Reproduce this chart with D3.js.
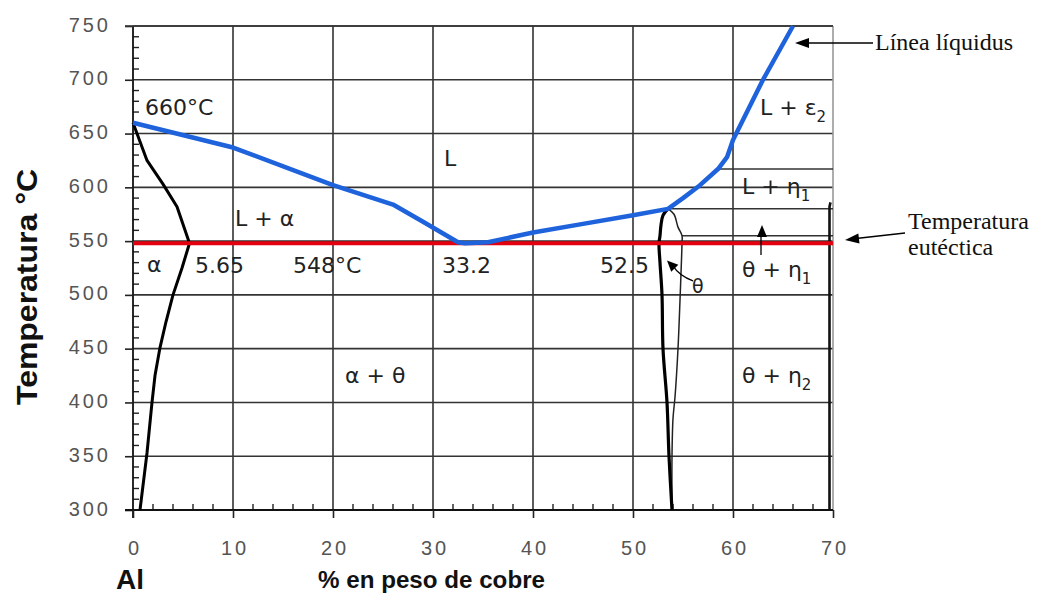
<!DOCTYPE html>
<html>
<head>
<meta charset="utf-8">
<script src="https://cdn.jsdelivr.net/npm/d3@7"></script>
<style>
  body { margin: 0; background: #fff; }
  svg { display: block; }
</style>
</head>
<body>
<svg id="chart" width="1039" height="599"></svg>
<script>
// Al–Cu phase diagram (aluminium-rich side)
const xTicks = [0, 10, 20, 30, 40, 50, 60, 70];
const yTicks = [300, 350, 400, 450, 500, 550, 600, 650, 700, 750];

// liquidus line: [% Cu, °C]
const liquidus = [
  [0, 660], [10, 637], [20, 602], [24, 590], [26, 584], [29, 568],
  [32.5, 549], [33.2, 548], [35.5, 549], [40, 558], [45, 566],
  [50, 574], [53.5, 580], [55, 590], [56.7, 602], [58.5, 617], [59.4, 628],
  [60, 644], [63, 700], [66, 750]
];
// alpha solidus and solvus
const alphaSolidus = [[0, 660], [1.4, 625], [3, 603], [4.4, 582], [5.65, 548]];
const alphaSolvus = [[5.65, 548], [4.9, 525], [4.0, 500], [3.3, 475], [2.7, 451], [2.2, 425], [1.9, 400], [1.4, 353], [0.7, 300]];
// theta phase field boundaries
const thetaLeft = [
  [53.5, 580], [53.0, 574], [52.8, 565], [52.7, 555], [52.6, 548], [52.7, 530],
  [52.9, 500], [53.0, 450], [53.4, 400], [53.6, 350], [53.9, 300]
];
const thetaRight = [
  [53.5, 580], [54.1, 575], [54.5, 563], [54.9, 555], [54.9, 548], [54.8, 520],
  [54.7, 495], [54.5, 450], [54.2, 405], [54.0, 385], [53.9, 350], [53.9, 300]
];
const eutecticT = 548;
// short isotherms on the copper-rich side: [°C, from % Cu, to % Cu]
const isoT = [580, 555, 617];
const isoFrom = [53.5, 54.9, 58.6];
const isoTo = [70, 70, 70];
// right-hand boundary of the theta + eta field
const etaEdge = [[69.75, 586], [69.65, 582], [69.65, 300]];

// phase-field labels: text, subscript, % Cu, °C (baseline)
const labelText = ["660°C", "L", "L + α", "α", "5.65", "548°C", "33.2", "52.5",
  "θ", "θ + η", "α + θ", "θ + η", "L + ε", "L + η"];
const labelSub = ["", "", "", "", "", "", "", "", "", "1", "", "2", "2", "1"];
const labelX = [1.2, 31.1, 10.2, 1.4, 6.2, 16.0, 30.9, 46.7, 55.9, 60.9, 21.2, 60.9, 62.7, 60.9];
const labelT = [667, 620, 564, 521, 520.5, 520.5, 520.5, 520.5, 502, 517, 418, 418, 667, 594];

const svg = d3.select("#chart");
const x = d3.scaleLinear().domain([0, 70]).range([133, 833]);
const y = d3.scaleLinear().domain([300, 750]).range([510, 26]);

const grid = svg.append("g").attr("stroke", "#333").attr("stroke-width", 1.6);
// vertical grid lines
grid.selectAll(".vg").data(xTicks.filter(d => d > 0 && d < 70)).join("line")
  .attr("x1", d => x(d)).attr("x2", d => x(d))
  .attr("y1", y(300)).attr("y2", y(750));
// horizontal grid lines
grid.selectAll(".hg").data(yTicks.filter(d => d > 300)).join("line")
  .attr("x1", x(0)).attr("x2", x(70))
  .attr("y1", d => y(d)).attr("y2", d => y(d));
// right frame
svg.append("line").attr("x1", x(70)).attr("x2", x(70)).attr("y1", y(300)).attr("y2", y(750))
  .attr("stroke", "#999").attr("stroke-width", 1.6);

// minor ticks
const minorY = d3.range(300, 751, 10).filter(d => d % 50 !== 0);
svg.append("g").selectAll("line").data(minorY).join("line")
  .attr("x1", x(0)).attr("x2", x(0) + 6)
  .attr("y1", d => y(d)).attr("y2", d => y(d))
  .attr("stroke", "#222").attr("stroke-width", 1.4);
const minorX = d3.range(0, 71, 2).filter(d => d % 10 !== 0);
svg.append("g").selectAll("line").data(minorX).join("line")
  .attr("x1", d => x(d)).attr("x2", d => x(d))
  .attr("y1", y(300)).attr("y2", y(300) - 6)
  .attr("stroke", "#222").attr("stroke-width", 1.4);

// axes
const yAxis = svg.append("g").attr("transform", `translate(${x(0)},0)`)
  .call(d3.axisLeft(y).tickValues(yTicks).tickSize(8).tickPadding(14).tickFormat(d3.format("d")));
const xAxis = svg.append("g").attr("transform", `translate(0,${y(300)})`)
  .call(d3.axisBottom(x).tickValues(xTicks).tickSize(8).tickPadding(23).tickFormat(d3.format("d")));
[yAxis, xAxis].forEach(a => {
  a.select(".domain").attr("stroke", "#111").attr("stroke-width", 1.8);
  a.selectAll(".tick line").attr("stroke", "#222").attr("stroke-width", 1.6);
  a.selectAll(".tick text")
    .attr("fill", "#555")
    .style("font-family", "'Liberation Sans', Arial, sans-serif")
    .style("font-size", "20px")
    .style("letter-spacing", "3px");
});
yAxis.selectAll(".tick text").attr("dy", "0.25em");
xAxis.selectAll(".tick text").attr("dx", "1.5px");
xAxis.select(".domain").attr("d", `M${x(0) - 8},0H${x(70)}`);
yAxis.select(".domain").attr("d", `M0,${y(300) + 8}V${y(750)}`);
// top frame line
svg.append("line").attr("x1", x(0) - 8).attr("x2", x(70)).attr("y1", y(750)).attr("y2", y(750))
  .attr("stroke", "#333").attr("stroke-width", 1.6);

const line = d3.line().x(d => x(d[0])).y(d => y(d[1])).curve(d3.curveLinear);
const smooth = d3.line().x(d => x(d[0])).y(d => y(d[1])).curve(d3.curveCatmullRom.alpha(0.5));

// isotherms
svg.append("g").selectAll("line").data(isoT).join("line")
  .attr("x1", (d, i) => x(isoFrom[i])).attr("x2", (d, i) => x(isoTo[i]))
  .attr("y1", d => y(d)).attr("y2", d => y(d))
  .attr("stroke", "#333").attr("stroke-width", 1.5);

// phase boundaries
svg.append("path").datum(alphaSolidus).attr("d", line)
  .attr("fill", "none").attr("stroke", "#000").attr("stroke-width", 3)
  .attr("stroke-linejoin", "round");
svg.append("path").datum(alphaSolvus).attr("d", line)
  .attr("fill", "none").attr("stroke", "#000").attr("stroke-width", 3)
  .attr("stroke-linejoin", "round");
svg.append("path").datum(thetaRight).attr("d", smooth)
  .attr("fill", "none").attr("stroke", "#222").attr("stroke-width", 1.5);
svg.append("path").datum(thetaLeft).attr("d", smooth)
  .attr("fill", "none").attr("stroke", "#000").attr("stroke-width", 3.2);
svg.append("path").datum(etaEdge).attr("d", line)
  .attr("fill", "none").attr("stroke", "#111").attr("stroke-width", 2.6);

// eutectic isotherm
svg.append("line").attr("x1", x(0)).attr("x2", x(70))
  .attr("y1", y(eutecticT)).attr("y2", y(eutecticT))
  .attr("stroke", "#e3000f").attr("stroke-width", 4);

// liquidus
svg.append("path").datum(liquidus).attr("d", line)
  .attr("fill", "none").attr("stroke", "#1e62dc").attr("stroke-width", 4.5)
  .attr("stroke-linejoin", "round");

// small arrows inside the diagram
const arrowHead = (tip, angle, len, half) => {
  const a = angle * Math.PI / 180;
  const bx = tip[0] - len * Math.cos(a), by = tip[1] - len * Math.sin(a);
  const nx = -Math.sin(a) * half, ny = Math.cos(a) * half;
  return `M${tip[0]},${tip[1]}L${bx + nx},${by + ny}L${bx - nx},${by - ny}Z`;
};
// upward arrow in the theta + eta1 field
svg.append("line").attr("x1", x(62.8)).attr("x2", x(62.8)).attr("y1", y(537)).attr("y2", y(556))
  .attr("stroke", "#000").attr("stroke-width", 1.3);
svg.append("path").attr("d", arrowHead([x(62.9), y(565)], -90, 12, 5)).attr("fill", "#000");
// pointer to the theta field
svg.append("path")
  .attr("d", `M${x(56.0)},${y(513)} Q${x(54.6)},${y(518)} ${x(54.0)},${y(527)}`)
  .attr("fill", "none").attr("stroke", "#000").attr("stroke-width", 1.2);
svg.append("path").attr("d", arrowHead([x(53.4), y(532)], -135, 11, 5)).attr("fill", "#000");

// phase labels
const labels = svg.append("g")
  .style("font-family", "'DejaVu Sans', sans-serif")
  .style("font-size", "22px")
  .attr("fill", "#222");
labelText.forEach((t, i) => {
  const el = labels.append("text").attr("x", x(labelX[i])).attr("y", y(labelT[i]));
  if (t === "θ" && labelSub[i] === "") {
    el.style("font-size", "19px");
  }
  el.append("tspan").text(t);
  if (labelSub[i]) {
    el.append("tspan").attr("dy", 7).style("font-size", "15px").text(labelSub[i]);
  }
});

// outer annotations
const notes = svg.append("g")
  .style("font-family", "'Liberation Serif', 'Times New Roman', serif")
  .style("font-size", "24px")
  .attr("fill", "#111");
notes.append("text").attr("x", 875).attr("y", 50).text("Línea líquidus");
notes.append("text").attr("x", 908).attr("y", 229).text("Temperatura");
notes.append("text").attr("x", 908).attr("y", 255).text("eutéctica");
svg.append("line").attr("x1", 873).attr("x2", 806).attr("y1", 43).attr("y2", 43)
  .attr("stroke", "#000").attr("stroke-width", 1.3);
svg.append("path").attr("d", arrowHead([795, 43], 180, 14, 5)).attr("fill", "#000");
svg.append("line").attr("x1", 905).attr("x2", 856).attr("y1", 233).attr("y2", 238.5)
  .attr("stroke", "#000").attr("stroke-width", 1.3);
svg.append("path").attr("d", arrowHead([845, 240], 173.5, 14, 5)).attr("fill", "#000");

// axis titles
svg.append("text")
  .attr("transform", "translate(37,287) rotate(-90)")
  .attr("text-anchor", "middle")
  .attr("textLength", 236).attr("lengthAdjust", "spacingAndGlyphs")
  .style("font-family", "'Liberation Sans', Arial, sans-serif")
  .style("font-size", "29px").style("font-weight", "bold")
  .attr("fill", "#111")
  .text("Temperatura °C");
svg.append("text")
  .attr("x", 318).attr("y", 588)
  .attr("textLength", 227).attr("lengthAdjust", "spacingAndGlyphs")
  .style("font-family", "'Liberation Sans', Arial, sans-serif")
  .style("font-size", "24px").style("font-weight", "bold")
  .attr("fill", "#111")
  .text("% en peso de cobre");
svg.append("text")
  .attr("x", 116).attr("y", 589)
  .style("font-family", "'Liberation Sans', Arial, sans-serif")
  .style("font-size", "28px").style("font-weight", "bold")
  .attr("fill", "#111")
  .text("Al");
</script>
</body>
</html>
